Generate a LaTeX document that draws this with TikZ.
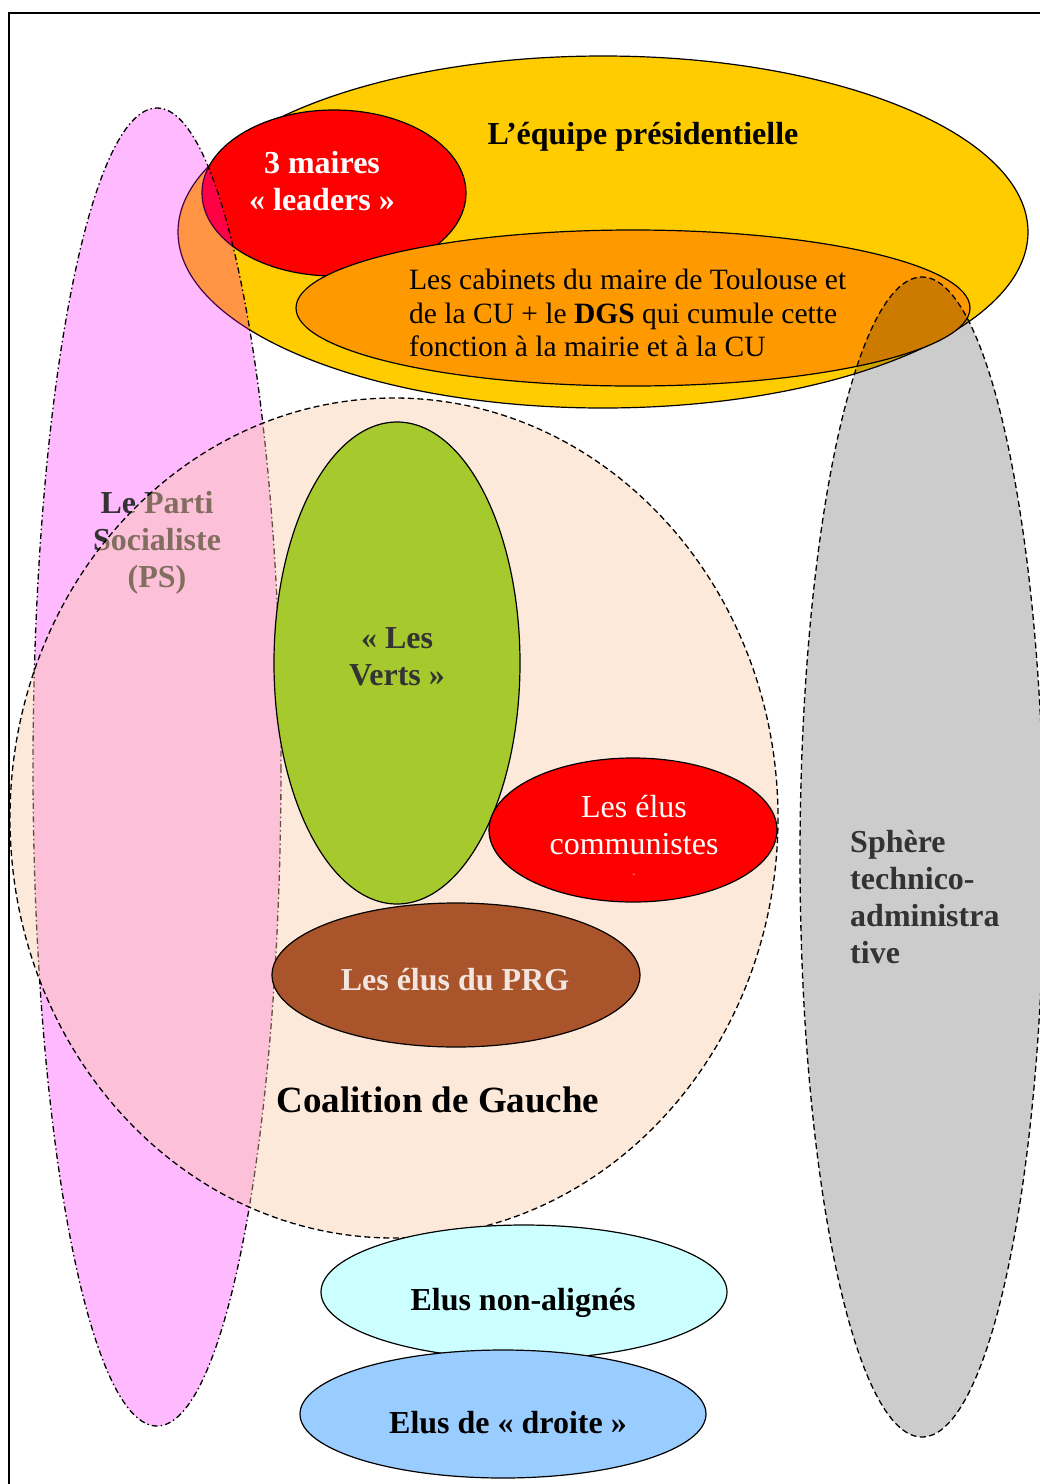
\documentclass[tikz,border=0pt]{standalone}
\usepackage{fontspec}
\setmainfont{Liberation Serif}
\usepackage{tikz}
\usetikzlibrary{positioning,shapes.geometric}
\definecolor{presid}{HTML}{FFCC00}
\definecolor{cabinet}{HTML}{FF9900}
\definecolor{leader}{HTML}{FF0000}
\definecolor{partisoc}{HTML}{FF00FF}
\definecolor{coal}{HTML}{FAC8A0}
\definecolor{verts}{HTML}{A6CA2E}
\definecolor{prg}{HTML}{A9542B}
\definecolor{nonal}{HTML}{CCFFFF}
\definecolor{droite}{HTML}{99CCFF}
\definecolor{darktxt}{HTML}{333333}
\tikzset{
  blob/.style={draw=black,line width=1.2pt},
  dashblob/.style={draw=black,line width=1.3pt,dash pattern=on 6pt off 3.5pt},
  dotblob/.style={draw=black,line width=1.3pt,dash pattern=on 6pt off 3pt on 1.5pt off 3pt},
  lbl/.style={font=\bfseries\fontsize{32}{37}\selectfont,align=center,inner sep=0pt},
  plain/.style={font=\fontsize{29.5}{33.5}\selectfont,inner sep=0pt}
}
\begin{document}
\begin{tikzpicture}[x=1pt,y=-1pt]
  \useasboundingbox (0,0) rectangle (1040,1484);
  \clip (0,0) rectangle (1040,1484);
  \draw[line width=2pt] (9,13) rectangle (1060,1500);

  % equipe presidentielle
  \filldraw[blob,fill=presid] (603,232) ellipse [x radius=425,y radius=176];
  \filldraw[blob,fill=leader] (334,193) ellipse [x radius=132,y radius=83];
  \filldraw[blob,fill=cabinet] (633,308) ellipse [x radius=337,y radius=78];
  \node[lbl] (equipe) at (643,137) {L’équipe présidentielle};
  \node[lbl,text=white] (leaders) at (322,181) {3 maires\\« leaders »};
  \node[plain,align=left,anchor=west] (cabinets) at (409,313)
    {Les cabinets du maire de Toulouse et\\de la CU + le \textbf{DGS} qui cumule cette\\fonction à la mairie et à la CU};

  % PS
  \filldraw[dotblob,fill=partisoc,fill opacity=0.27] (157,767) ellipse [x radius=124,y radius=659];
  \node[lbl,text=darktxt] (ps) at (157,543) {Le Parti\\Socialiste\\(PS)};

  % coalition
  \filldraw[dashblob,fill=coal,fill opacity=0.4] (394,818) ellipse [x radius=384,y radius=420];
  \filldraw[blob,fill=verts] (397,663) ellipse [x radius=123,y radius=241];
  \filldraw[blob,fill=leader] (633,830) ellipse [x radius=144,y radius=72];
  \filldraw[blob,fill=prg] (456,975) ellipse [x radius=184,y radius=72];
  \node[lbl,text=darktxt] (lesverts) at (397,657) {« Les\\Verts »};
  \node[plain,align=center,text=white,font=\fontsize{32}{37}\selectfont] (communistes) at (634,825) {Les élus\\communistes};
  \node[text=white,font=\fontsize{8}{8}\selectfont,inner sep=0pt] (tiret) at (634,875) {-};
  \node[lbl,text=prg!15] (elusprg) at (455,980) {Les élus du PRG};
  \node[lbl,font=\bfseries\fontsize{37}{40}\selectfont] (coalition) at (438,1100) {Coalition de Gauche};

  % sphere technico-administrative
  \filldraw[dashblob,fill=black,fill opacity=0.2] (922,857) ellipse [x radius=122,y radius=580];
  \node[lbl,align=left,anchor=west,text=darktxt] (sphere) at (850,897) {Sphère\\technico-\\administra\\tive};

  % non alignes et droite
  \filldraw[blob,fill=nonal] (524,1292) ellipse [x radius=203,y radius=67];
  \node[lbl] (nonalignes) at (523,1303) {Elus non-alignés};
  \filldraw[blob,fill=droite] (503,1414) ellipse [x radius=203,y radius=64];
  \node[lbl] (elusdroite) at (508,1423) {Elus de « droite »};
\end{tikzpicture}
\end{document}
